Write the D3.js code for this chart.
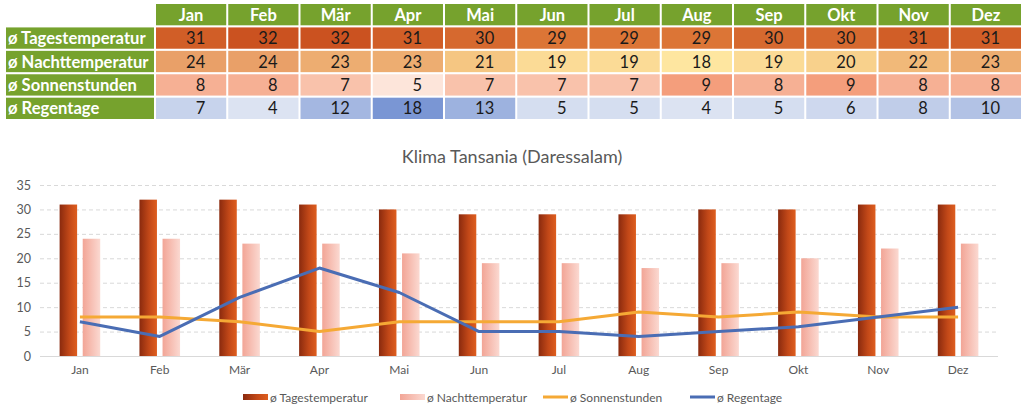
<!DOCTYPE html>
<html><head><meta charset="utf-8">
<script src="https://cdn.jsdelivr.net/npm/d3@7"></script>
<style>body{margin:0;background:#fff;}svg{display:block;font-family:Lato,"Open Sans",sans-serif;}</style>
</head><body><svg id="c" width="1024" height="415"></svg>
<script>
const months = ["Jan","Feb","Mär","Apr","Mai","Jun","Jul","Aug","Sep","Okt","Nov","Dez"];
const rowLabels = ["ø Tagestemperatur","ø Nachttemperatur","ø Sonnenstunden","ø Regentage"];
const tages = [31,32,32,31,30,29,29,29,30,30,31,31];
const nacht = [24,24,23,23,21,19,19,18,19,20,22,23];
const sonnen = [8,8,7,5,7,7,7,9,8,9,8,8];
const regen = [7,4,12,18,13,5,5,4,5,6,8,10];
const yTicks = [0,5,10,15,20,25,30,35];
const title = "Klima Tansania (Daressalam)";

const svg = d3.select("#c");

// ---------- table ----------
const tx = d3.scaleBand().domain(months).range([156, 1021]).paddingInner(0.028).paddingOuter(0);
const rowY = d3.scaleBand().domain(["head"].concat(rowLabels)).range([4, 119]).paddingInner(0.09);
const rowData = [tages, nacht, sonnen, regen];
const colorScales = [
  d3.scaleLinear().domain([29, 32]).range(["#dc7536", "#cb5220"]),
  d3.scaleLinear().domain([18, 21, 24]).range(["#fee6a0", "#f5c682", "#e9a068"]),
  d3.scaleLinear().domain([5, 9]).range(["#fde5da", "#f49e7c"]),
  d3.scaleLinear().domain([4, 18]).range(["#dce3f2", "#7a96d4"])
];
const green = "#76a22d";
const tbl = svg.append("g");
// header
tbl.selectAll("rect.h").data(months).join("rect")
  .attr("x", d => tx(d)).attr("y", rowY("head")).attr("width", tx.bandwidth()).attr("height", rowY.bandwidth())
  .attr("fill", green);
tbl.selectAll("text.h").data(months).join("text")
  .attr("x", d => tx(d) + tx.bandwidth() / 2).attr("y", rowY("head") + rowY.bandwidth() / 2 + 6)
  .attr("text-anchor", "middle").attr("fill", "#fff").attr("font-weight", "bold").attr("font-size", 16.5).text(d => d);
// row labels
tbl.selectAll("rect.l").data(rowLabels).join("rect")
  .attr("x", 6).attr("y", d => rowY(d)).attr("width", 148).attr("height", rowY.bandwidth()).attr("fill", green);
tbl.selectAll("text.l").data(rowLabels).join("text")
  .attr("x", 8).attr("y", d => rowY(d) + rowY.bandwidth() / 2 + 6)
  .attr("fill", "#fff").attr("font-weight", "bold").attr("font-size", 16.6).text(d => d);
rowLabels.forEach((lab, ri) => {
  const vals = rowData[ri];
  const g = tbl.append("g");
  g.selectAll("rect").data(vals).join("rect")
    .attr("x", (d, i) => tx(months[i])).attr("y", rowY(lab)).attr("width", tx.bandwidth()).attr("height", rowY.bandwidth())
    .attr("fill", d => colorScales[ri](d));
  g.selectAll("text").data(vals).join("text")
    .attr("x", (d, i) => tx(months[i]) + tx.bandwidth() - 21).attr("y", rowY(lab) + rowY.bandwidth() / 2 + 6)
    .attr("text-anchor", "end").attr("fill", "#1a1a1a").attr("font-size", 16.5).text(d => d);
});

// ---------- chart ----------
const x = d3.scaleBand().domain(months).range([40, 998]);
const y = d3.scaleLinear().domain([0, 35]).range([356, 185]);
const defs = svg.append("defs");
const g1 = defs.append("linearGradient").attr("id", "gd").attr("x1", "0").attr("x2", "1").attr("y1", "0").attr("y2", "0");
g1.append("stop").attr("offset", "0").attr("stop-color", "#8a2a0e");
g1.append("stop").attr("offset", "0.55").attr("stop-color", "#c24818");
g1.append("stop").attr("offset", "1").attr("stop-color", "#de5e1f");
const g2 = defs.append("linearGradient").attr("id", "gl").attr("x1", "0").attr("x2", "1").attr("y1", "0").attr("y2", "0");
g2.append("stop").attr("offset", "0").attr("stop-color", "#f2a596");
g2.append("stop").attr("offset", "1").attr("stop-color", "#fbd9d1");

svg.append("text").attr("x", 512).attr("y", 163).attr("text-anchor", "middle")
  .attr("fill", "#595959").attr("font-size", 18).text(title);

// grid
svg.append("g").selectAll("line").data(yTicks.filter(d => d > 0)).join("line")
  .attr("x1", 40).attr("x2", 998).attr("y1", d => y(d) + 0.5).attr("y2", d => y(d) + 0.5)
  .attr("stroke", "#d9d9d9").attr("stroke-width", 1).attr("stroke-dasharray", "4,3");
svg.append("line").attr("x1", 40).attr("x2", 998).attr("y1", y(0) + 0.5).attr("y2", y(0) + 0.5)
  .attr("stroke", "#d9d9d9");

// y axis
const ya = svg.append("g").attr("transform", "translate(31,0)")
  .call(d3.axisLeft(y).tickValues(yTicks).tickSize(0).tickPadding(0));
ya.select(".domain").remove();
ya.selectAll("text").attr("fill", "#595959").attr("font-size", 12.5).attr("font-family", "Lato");

// x axis
const xa = svg.append("g").attr("transform", `translate(0,${y(0)})`)
  .call(d3.axisBottom(x).tickSize(0).tickPadding(9));
xa.select(".domain").remove();
xa.selectAll("text").attr("fill", "#595959").attr("font-size", 12).attr("font-family", "Lato");

const bw = 17.5, gap = 2.8;
svg.append("g").selectAll("rect").data(tages).join("rect")
  .attr("x", (d, i) => x(months[i]) + x.bandwidth() / 2 - gap - bw).attr("width", bw)
  .attr("y", d => y(d)).attr("height", d => y(0) - y(d)).attr("fill", "url(#gd)");
svg.append("g").selectAll("rect").data(nacht).join("rect")
  .attr("x", (d, i) => x(months[i]) + x.bandwidth() / 2 + gap).attr("width", bw)
  .attr("y", d => y(d)).attr("height", d => y(0) - y(d)).attr("fill", "url(#gl)");

const line = d3.line().x((d, i) => x(months[i]) + x.bandwidth() / 2).y(d => y(d));
svg.append("path").datum(sonnen).attr("d", line).attr("fill", "none")
  .attr("stroke", "#f5a935").attr("stroke-width", 3).attr("stroke-linejoin", "round");
svg.append("path").datum(regen).attr("d", line).attr("fill", "none")
  .attr("stroke", "#4a6db4").attr("stroke-width", 3).attr("stroke-linejoin", "round");

// legend
const leg = svg.append("g").attr("font-size", 12).attr("fill", "#595959");
const items = [
  {t: rowLabels[0], type: "bar", fill: "url(#gd)", x: 243},
  {t: rowLabels[1], type: "bar", fill: "url(#gl)", x: 400},
  {t: rowLabels[2], type: "line", fill: "#f5a935", x: 543},
  {t: rowLabels[3], type: "line", fill: "#4a6db4", x: 690}
];
items.forEach(it => {
  if (it.type === "bar") leg.append("rect").attr("x", it.x).attr("y", 394).attr("width", 25).attr("height", 6).attr("fill", it.fill);
  else leg.append("line").attr("x1", it.x).attr("x2", it.x + 25).attr("y1", 397).attr("y2", 397).attr("stroke", it.fill).attr("stroke-width", 3);
  leg.append("text").attr("x", it.x + 27).attr("y", 401.5).text(it.t);
});
</script></body></html>
